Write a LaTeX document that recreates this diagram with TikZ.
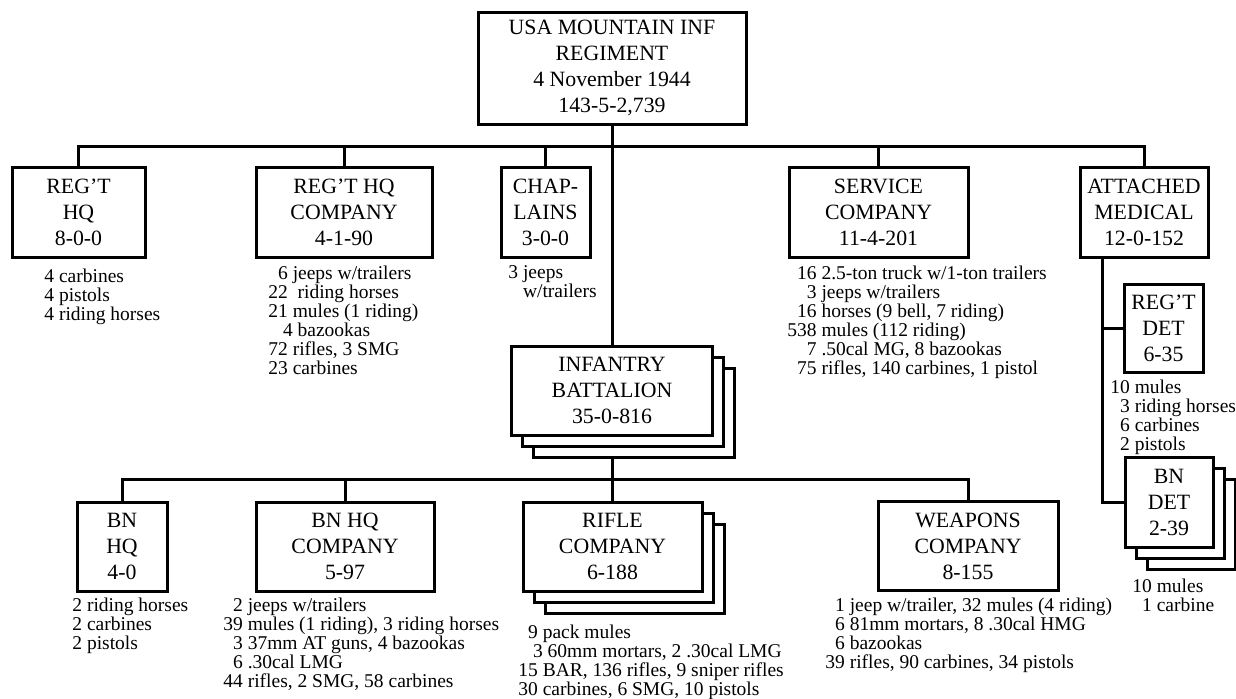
\documentclass[tikz,border=0pt]{standalone}
\usepackage{fontspec}
\setmainfont{Liberation Serif}
\usetikzlibrary{calc}

\newcommand{\unitfont}{\fontsize{10.9}{13}\selectfont}
\newcommand{\kitfont}{\fontsize{9.75}{9.5}\selectfont}
\newcommand{\dgt}{\phantom{0}}

\begin{document}
\begin{tikzpicture}[
  x=0.5pt, y=-0.5pt,
  unit/.style={draw, line width=1.5pt, fill=white, align=center,
               font=\unitfont, inner sep=2pt, minimum height=45pt},
  kit/.style={anchor=north west, inner sep=0pt, align=left, font=\kitfont},
  link/.style={line width=1.5pt}
]
\useasboundingbox (0,0) rectangle (1236,698);

% Regiment and its first row
\node[unit, minimum width=134pt, minimum height=56pt] (reg) at (612,68)
  {USA MOUNTAIN INF\\REGIMENT\\4 November 1944\\143-5-2,739};
\node[unit, minimum width=66.5pt] (rhq) at (78.5,212) {REG'T\\HQ\\8-0-0};
\node[unit, minimum width=88pt] (rhqco) at (344,212) {REG'T HQ\\COMPANY\\4-1-90};
\node[unit, minimum width=44.5pt] (chap) at (545.5,212) {CHAP-\\LAINS\\3-0-0};
\node[unit, minimum width=89.5pt] (svc) at (878.5,212) {SERVICE\\COMPANY\\11-4-201};
\node[unit, minimum width=64pt] (med) at (1144,212) {ATTACHED\\MEDICAL\\12-0-152};

\coordinate (bus) at (612,146);
\draw[link] (rhq.north) |- (bus) -| (med.north);
\draw[link] (rhqco.north) -- (rhqco.north |- bus);
\draw[link] (chap.north) -- (chap.north |- bus);
\draw[link] (svc.north) -- (svc.north |- bus);

% Infantry battalion (three of them)
\node[unit, minimum width=100.5pt, minimum height=44.5pt] (infbn3) at (634,412.5) {};
\node[unit, minimum width=100.5pt, minimum height=44.5pt] (infbn2) at (623,401.5) {};
\node[unit, minimum width=100.5pt, minimum height=44.5pt] (infbn) at (612,390.5)
  {INFANTRY\\BATTALION\\35-0-816};
\draw[link] (reg.south) -- (infbn.north);

% Battalion row
\node[unit, minimum width=45pt, minimum height=44.5pt] (bnhq) at (122,546.5) {BN\\HQ\\4-0};
\node[unit, minimum width=89pt, minimum height=44.5pt] (bnhqco) at (345,546.5) {BN HQ\\COMPANY\\5-97};
\node[unit, minimum width=89.5pt, minimum height=44.5pt] (rifle3) at (634.5,568.5) {};
\node[unit, minimum width=89.5pt, minimum height=44.5pt] (rifle2) at (623.5,557.5) {};
\node[unit, minimum width=89.5pt, minimum height=44.5pt] (rifle) at (612.5,546.5)
  {RIFLE\\COMPANY\\6-188};
\node[unit, minimum width=90pt, minimum height=44.5pt] (wpn) at (968,546) {WEAPONS\\COMPANY\\8-155};

\coordinate (bus2) at (612,479);
\draw[link] (bnhq.north) |- (bus2) -| (wpn.north);
\draw[link] (bnhqco.north) -- (bnhqco.north |- bus2);
\draw[link] (rifle.north |- infbn3.south) -- (rifle.north);

% Medical detachments
\node[unit, minimum width=39.5pt, minimum height=44pt] (regdet) at (1163.5,328) {REG'T\\DET\\6-35};
\node[unit, minimum width=44pt] (bndet3) at (1191,524) {};
\node[unit, minimum width=44pt] (bndet2) at (1180,513) {};
\node[unit, minimum width=44pt] (bndet) at (1169,502) {BN\\DET\\2-39};

\coordinate (medtrunk) at (1102,257);
\draw[link] (medtrunk) |- (bndet.west);
\draw[link] (medtrunk |- regdet.west) -- (regdet.west);

% Equipment lists
\node[kit] (rhqkit) at (44,269) {4 carbines\\4 pistols\\4 riding horses};
\node[kit] (rhqcokit) at (268,266) {\dgt6 jeeps w/trailers\\22\ \ riding horses\\
  21 mules (1 riding)\\\dgt\ 4 bazookas\\72 rifles, 3 SMG\\23 carbines};
\node[kit] (chapkit) at (508,265) {3 jeeps\\\dgt\ w/trailers};
\node[kit] (svckit) at (787,266) {\dgt16 2.5-ton truck w/1-ton trailers\\
  \dgt\dgt3 jeeps w/trailers\\\dgt16 horses (9 bell, 7 riding)\\
  538 mules (112 riding)\\\dgt\dgt7 .50cal MG, 8 bazookas\\
  \dgt75 rifles, 140 carbines, 1 pistol};
\node[kit] (regdetkit) at (1110,380) {10 mules\\\dgt3 riding horses\\\dgt6 carbines\\\dgt2 pistols};
\node[kit] (bndetkit) at (1132,579) {10 mules\\\dgt1 carbine};
\node[kit] (bnhqkit) at (72,598) {2 riding horses\\2 carbines\\2 pistols};
\node[kit] (bnhqcokit) at (223,598) {\dgt2 jeeps w/trailers\\
  39 mules (1 riding), 3 riding horses\\\dgt3 37mm AT guns, 4 bazookas\\
  \dgt6 .30cal LMG\\44 rifles, 2 SMG, 58 carbines};
\node[kit] (riflekit) at (518,625) {\dgt9 pack mules\\\dgt\ 3 60mm mortars, 2 .30cal LMG\\
  15 BAR, 136 rifles, 9 sniper rifles\\30 carbines, 6 SMG, 10 pistols};
\node[kit] (wpnkit) at (825,598) {\dgt1 jeep w/trailer, 32 mules (4 riding)\\
  \dgt6 81mm mortars, 8 .30cal HMG\\\dgt6 bazookas\\39 rifles, 90 carbines, 34 pistols};

\end{tikzpicture}
\end{document}
